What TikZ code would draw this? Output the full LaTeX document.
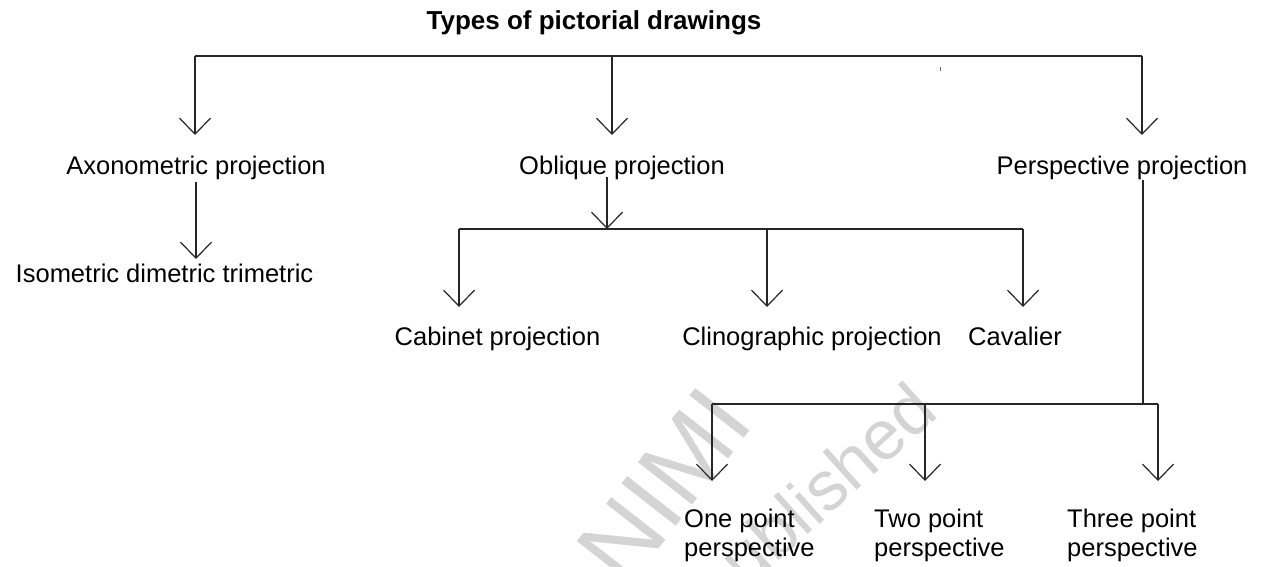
\documentclass[tikz,border=0pt]{standalone}
\usepackage{fontspec}
\setmainfont{Liberation Sans}
\usetikzlibrary{arrows.meta}

\tikzset{
  link/.style={line width=1.2pt, draw=black!85},
  arr/.style={link, -{Straight Barb[length=16pt,width=31pt,line width=1.2pt]}},
  lbl/.style={font=\fontsize{25.5}{30}\selectfont, inner sep=0pt, anchor=base},
  lblw/.style={lbl, anchor=base west},
  wmark/.style={text=black!17, inner sep=0pt, font=\fontsize{#1}{#1}\selectfont},
}

\begin{document}
\begin{tikzpicture}[x=1pt,y=-1pt]
  \useasboundingbox[fill=white] (0,0) rectangle (1266,567);

  % faint background stamp
  \node[wmark=100, rotate=52] (stampA) at (664,486) {NIMI};
  \node[wmark=70, rotate=42] (stampB) at (784,532) {Republished};

  % labels
  \node[lbl, font=\fontsize{26}{30}\selectfont\bfseries] (title) at (594,30) {Types of pictorial drawings};
  \node[lbl] (axo) at (196,174) {Axonometric projection};
  \node[lbl] (obl) at (622,175) {Oblique projection};
  \node[lbl] (per) at (1122,175) {Perspective projection};
  \node[lbl] (iso) at (164.5,282) {Isometric dimetric trimetric};
  \node[lbl] (cab) at (497.5,345) {Cabinet projection};
  \node[lbl] (cli) at (812,345) {Clinographic projection};
  \node[lbl] (cav) at (1015,345) {Cavalier};
  \node[lblw] (one1) at (684,527) {One point};
  \node[lblw] (one2) at (684,556) {perspective};
  \node[lblw] (two1) at (874,527) {Two point};
  \node[lblw] (two2) at (874,556) {perspective};
  \node[lblw] (thr1) at (1067,527) {Three point};
  \node[lblw] (thr2) at (1067,556) {perspective};

  % junctions and arrow tips
  \coordinate (topL) at (195,56);
  \coordinate (topM) at (612,56);
  \coordinate (topR) at (1142,56);
  \coordinate (tick) at (940,67);
  \coordinate (axoTip) at (195,135);
  \coordinate (oblTip) at (612,135);
  \coordinate (perTip) at (1142,135);

  \coordinate (axoOut) at (196,182);
  \coordinate (isoTip) at (196,259);

  \coordinate (oblOut) at (607,177);
  \coordinate (oblBus) at (607,229);
  \coordinate (busBL) at (459,229);
  \coordinate (busBM) at (767,229);
  \coordinate (busBR) at (1023,229);
  \coordinate (cabTip) at (459,307);
  \coordinate (cliTip) at (767,307);
  \coordinate (cavTip) at (1023,307);

  \coordinate (perOut) at (1143,180);
  \coordinate (perBus) at (1143,404);
  \coordinate (busCL) at (712,404);
  \coordinate (busCM) at (925,404);
  \coordinate (busCR) at (1158,404);
  \coordinate (oneTip) at (712,481);
  \coordinate (twoTip) at (925,481);
  \coordinate (thrTip) at (1158,481);

  % top level
  \draw[link] (topL) -- (topR);
  \draw[arr] (topL) -- (axoTip);
  \draw[arr] (topM) -- (oblTip);
  \draw[arr] (topR) -- (perTip);
  \draw[line width=1pt, draw=black!60] (tick) -- ++(0,4);

  % axonometric branch
  \draw[arr] (axoOut) -- (isoTip);

  % oblique branch
  \draw[arr] (oblOut) -- (oblBus);
  \draw[link] (busBL) -- (busBR);
  \draw[arr] (busBL) -- (cabTip);
  \draw[arr] (busBM) -- (cliTip);
  \draw[arr] (busBR) -- (cavTip);

  % perspective branch
  \draw[link] (perOut) -- (perBus);
  \draw[link] (busCL) -- (busCR);
  \draw[arr] (busCL) -- (oneTip);
  \draw[arr] (busCM) -- (twoTip);
  \draw[arr] (busCR) -- (thrTip);
\end{tikzpicture}
\end{document}
